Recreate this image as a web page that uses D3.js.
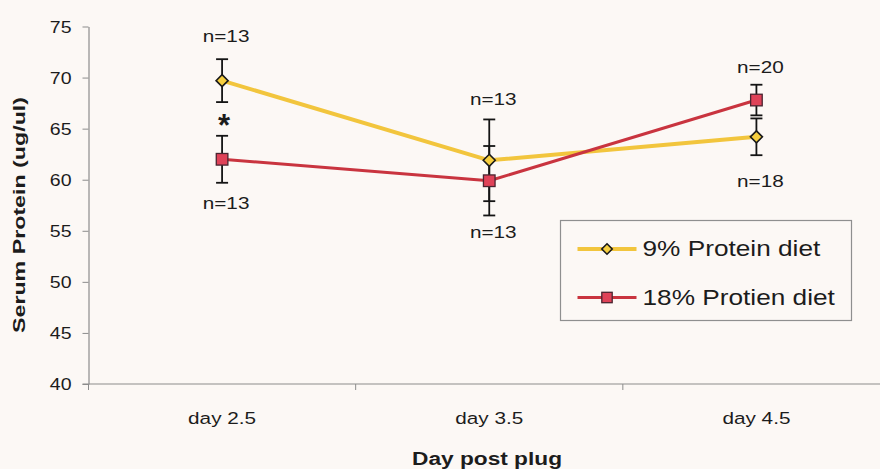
<!DOCTYPE html>
<html>
<head>
<meta charset="utf-8">
<script src="https://cdn.jsdelivr.net/npm/d3@7"></script>
<style>
  body { margin: 0; background: #fcf8f5; }
  svg { display: block; }
  text { font-family: "Liberation Sans", Arial, sans-serif; fill: #1c1c1c; }
</style>
</head>
<body>
<svg id="chart" width="880" height="469"></svg>
<script>
// Serum protein by day post plug, mean ± error for two diets
const days = ["day 2.5", "day 3.5", "day 4.5"];
const lowProtein = [69.7, 61.9, 64.2];      // 9% protein diet
const lowProteinErr = [2.1, 4.0, 1.8];
const highProtein = [62.0, 59.9, 67.8];     // 18% protein diet
const highProteinErr = [2.3, 3.4, 1.5];
const seriesNames = ["9% Protein diet", "18% Protien diet"];
const yTicks = [40, 45, 50, 55, 60, 65, 70, 75];

// sample sizes, anchored at a serum-protein level on each day
const countDays = ["day 2.5", "day 2.5", "day 3.5", "day 3.5", "day 4.5", "day 4.5"];
const countText = ["n=13", "n=13", "n=13", "n=13", "n=20", "n=18"];
const countLevel = [73.5, 57.1, 67.35, 54.3, 70.45, 59.3];

// significance marker on day 2.5
const starDay = "day 2.5";
const starLevel = 64.3;

const svg = d3.select("#chart");
const W = 880, H = 469;
const bg = "#fcf8f5";
const axisColor = "#8c8c8c";
const yellow = "#f2c53d", red = "#c9343f";
const yellowFill = "#f7cf3f", redFill = "#df4258";

svg.append("rect").attr("width", W).attr("height", H).attr("fill", bg);

const x = d3.scaleBand().domain(days).range([88.5, 890]);
const y = d3.scaleLinear().domain([40, 75]).range([384, 26.5]);
const cx = d => x(d) + x.bandwidth() / 2;

// widen glyphs horizontally about each text's anchor
function wide(sel, k = 1.22) {
  sel.each(function () {
    const t = d3.select(this);
    const tx = +t.attr("x") || 0, ty = +t.attr("y") || 0;
    t.attr("x", null).attr("y", null)
     .attr("transform", `translate(${tx},${ty}) scale(${k},1)`);
  });
}

// Y axis
const yAxis = svg.append("g")
  .attr("transform", "translate(88.5,0)")
  .call(d3.axisLeft(y).tickValues(yTicks).tickSize(6).tickSizeOuter(0).tickPadding(11));
yAxis.select(".domain").attr("stroke", axisColor).attr("stroke-width", 1.2);
yAxis.selectAll(".tick line").attr("stroke", axisColor).attr("stroke-width", 1);
yAxis.selectAll(".tick text")
  .style("font-size", "16px").attr("fill", "#1c1c1c").attr("dy", "0.36em");
wide(yAxis.selectAll(".tick text"));

// X axis: baseline, category boundary ticks, labels
const xAxis = svg.append("g").attr("transform", "translate(0,384)");
xAxis.append("line")
  .attr("x1", x.range()[0] - 6).attr("x2", W)
  .attr("stroke", axisColor).attr("stroke-width", 1.2);
const bounds = days.map(d => x(d)).concat([x.range()[1]]);
xAxis.selectAll("line.bound").data(bounds).join("line")
  .attr("class", "bound")
  .attr("x1", d => d).attr("x2", d => d)
  .attr("y1", 0).attr("y2", 6)
  .attr("stroke", axisColor).attr("stroke-width", 1);
const xLabels = xAxis.selectAll("text.cat").data(days).join("text")
  .attr("class", "cat")
  .attr("x", d => cx(d)).attr("y", 40)
  .attr("text-anchor", "middle")
  .style("font-size", "17px")
  .text(d => d);
wide(xLabels);

// Axis titles
svg.append("text")
  .attr("transform", "translate(25,215) rotate(-90)")
  .attr("text-anchor", "middle")
  .attr("textLength", 236).attr("lengthAdjust", "spacingAndGlyphs")
  .style("font-size", "17px").style("font-weight", "bold")
  .text("Serum Protein (ug/ul)");
svg.append("text")
  .attr("x", 487).attr("y", 465)
  .attr("text-anchor", "middle")
  .attr("textLength", 150).attr("lengthAdjust", "spacingAndGlyphs")
  .style("font-size", "18px").style("font-weight", "bold")
  .text("Day post plug");

// Series
const series = [
  { name: seriesNames[0], values: lowProtein, errs: lowProteinErr, color: yellow, fill: yellowFill, width: 4, shape: "diamond" },
  { name: seriesNames[1], values: highProtein, errs: highProteinErr, color: red, fill: redFill, width: 3, shape: "square" }
];

const line = d3.line().x((v, i) => cx(days[i])).y(v => y(v));
series.forEach(s => {
  svg.append("path")
    .datum(s.values)
    .attr("d", line)
    .attr("fill", "none")
    .attr("stroke", s.color)
    .attr("stroke-width", s.width)
    .attr("stroke-linejoin", "round");
});

// Error bars
series.forEach(s => {
  const g = svg.append("g").attr("stroke", "#141414").attr("stroke-width", 1.8);
  s.values.forEach((v, i) => {
    const px = cx(days[i]);
    const top = y(v + s.errs[i]), bot = y(v - s.errs[i]);
    g.append("line").attr("x1", px).attr("x2", px).attr("y1", top).attr("y2", bot);
    g.append("line").attr("x1", px - 6).attr("x2", px + 6).attr("y1", top).attr("y2", top);
    g.append("line").attr("x1", px - 6).attr("x2", px + 6).attr("y1", bot).attr("y2", bot);
  });
});

// Markers
function marker(g, shape, px, py, fill, big) {
  if (shape === "diamond") {
    const r = big ? 6 : 5.2;
    g.append("path")
      .attr("d", `M${px},${py - r}L${px + r},${py}L${px},${py + r}L${px - r},${py}Z`)
      .attr("fill", fill).attr("stroke", "#1a1a1a").attr("stroke-width", 1.6);
  } else {
    const h = big ? 5.8 : 5.2;
    g.append("rect")
      .attr("x", px - h).attr("y", py - h).attr("width", 2 * h).attr("height", 2 * h)
      .attr("fill", fill).attr("stroke", "#4a2430").attr("stroke-width", 1.3);
  }
}
series.forEach(s => {
  const g = svg.append("g");
  s.values.forEach((v, i) => marker(g, s.shape, cx(days[i]), y(v), s.fill, true));
});

// Sample size labels
const nLabels = svg.selectAll("text.n").data(countText).join("text")
  .attr("class", "n")
  .attr("x", (t, i) => cx(countDays[i]) + 4)
  .attr("y", (t, i) => y(countLevel[i]))
  .attr("text-anchor", "middle")
  .style("font-size", "17px")
  .text(t => t);
wide(nLabels);

svg.append("text")
  .attr("x", cx(starDay) + 2).attr("y", y(starLevel))
  .attr("text-anchor", "middle")
  .style("font-size", "31px").style("font-weight", "bold")
  .text("*");

// Legend
const lg = svg.append("g").attr("transform", "translate(560.5,220.5)");
lg.append("rect").attr("width", 291).attr("height", 100)
  .attr("fill", bg).attr("stroke", "#8f8f8f").attr("stroke-width", 1.2);
series.forEach((s, i) => {
  const ly = 28.5 + i * 48.5;
  lg.append("line").attr("x1", 17).attr("x2", 76).attr("y1", ly).attr("y2", ly)
    .attr("stroke", s.color).attr("stroke-width", s.width);
  marker(lg, s.shape, 46.5, ly, s.fill, false);
  const t = lg.append("text").attr("x", 82).attr("y", ly + 5 + 2)
    .style("font-size", "21.5px").text(s.name);
  wide(t, 1.22);
});
</script>
</body>
</html>
